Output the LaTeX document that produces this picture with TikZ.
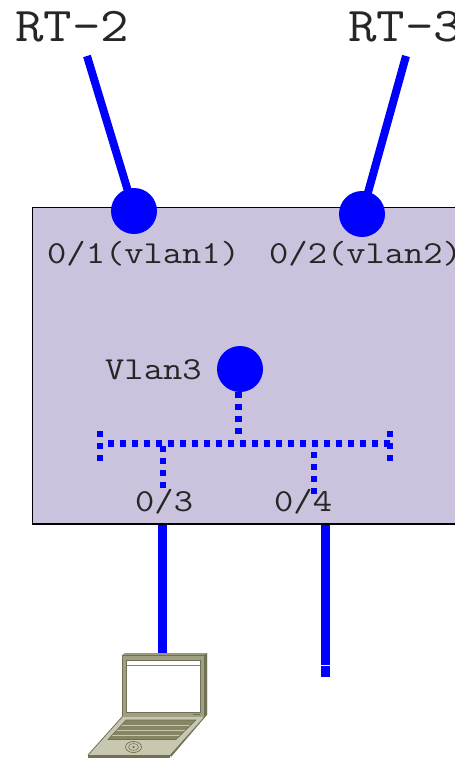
\documentclass[tikz,border=0pt]{standalone}
\usepackage{fontspec}
\newfontfamily\bigfont[FakeStretch=1.14]{Latin Modern Mono}
\newfontfamily\labfont[FakeStretch=1.17]{Latin Modern Mono}
\definecolor{panel}{RGB}{203,194,221}
\definecolor{lapA}{RGB}{160,160,128}
\definecolor{lapB}{RGB}{200,200,176}
\definecolor{lapC}{RGB}{112,112,84}
\definecolor{lapD}{RGB}{134,134,100}
\tikzset{
  port/.style={circle,fill=blue,draw=none,minimum size=46pt,inner sep=0pt},
  uplink/.style={draw=blue,line width=8pt},
  access/.style={draw=blue,line width=9pt},
  vdots/.style={draw=blue,line width=6.4pt,dash pattern=on 6pt off 6pt},
  bigtxt/.style={font=\bigfont\fontsize{48.5}{48}\selectfont,inner sep=0pt,anchor=base west,text=black!85},
  smalltxt/.style={font=\labfont\fontsize{32}{32}\selectfont,inner sep=0pt,anchor=base west,text=black!85},
}
\begin{document}
\begin{tikzpicture}[x=1pt,y=-1pt]
\useasboundingbox (0,0) rectangle (455,758);
\clip (0,0) rectangle (455,758);
\draw[fill=panel,draw=black,line width=1.8pt] (32.5,207.5) rectangle (470,524);
\node[bigtxt] (rt2) at (15,41) {RT-2};
\node[bigtxt] (rt3) at (348,41) {RT-3};
\coordinate (rt2end) at (87,56);
\coordinate (rt3end) at (406,56);
\node[port] (p1) at (134,211) {};
\node[port] (p2) at (362,214) {};
\node[port] (p3) at (240,369) {};
\draw[uplink] (rt2end) -- (p1.center);
\draw[uplink] (rt3end) -- (p2.center);
\node[smalltxt] (l1) at (47,263) {0/1(vlan1)};
\node[smalltxt] (l2) at (269,263) {0/2(vlan2)};
\node[smalltxt] (l3) at (105,379) {Vlan3};
\node[smalltxt] (l4) at (135,511) {0/3};
\node[smalltxt] (l5) at (274,511) {0/4};
% dotted bus
\coordinate (busL) at (107.7,443.5);
\coordinate (busR) at (392,443.5);
\coordinate (capLt) at (99.7,431);
\coordinate (capLb) at (99.7,461);
\coordinate (capRt) at (390,431);
\coordinate (capRb) at (390,461);
\coordinate (end3) at (162.7,488.5);
\coordinate (end4) at (314,494);
\draw[vdots] (busL) -- (busR);
\draw[vdots] (capLt) -- (capLb);
\draw[vdots] (capRt) -- (capRb);
\draw[vdots] (238.3,392) -- (238.3,434);
\draw[vdots] (162.7,446.3) -- (end3);
\draw[vdots] (314,452) -- (end4);
% access links
\coordinate (b3) at (162.5,524.8);
\coordinate (lap) at (162.5,653);
\coordinate (b4) at (325.5,524.8);
\coordinate (free) at (325.5,677);
\draw[access] (b3) -- (lap);
\draw[access] (b4) -- (free);
\fill[white] (321,665) rectangle (330,666);
% laptop
\fill[lapA] (122.5,655) -- (125,653) -- (207,653) -- (207,715) -- (204,717) -- (122.5,717) -- cycle;
\fill[lapC] (204,655) -- (207,653) -- (207,715) -- (204,717) -- cycle;
\fill[lapD!70!lapB] (122.5,655) -- (125,653) -- (207,653) -- (204,655) -- cycle;
\draw[lapC,line width=1pt] (122.5,655) rectangle (204,717);
\fill[white] (126.5,660.5) rectangle (200.5,712);
\draw[lapD,line width=0.8pt] (126.5,665.2) -- (200.5,665.2);
\draw[lapC,line width=0.6pt] (126.5,660.5) rectangle (200.5,712);
\fill[lapC] (193,713.5) rectangle (200,715);
\fill[lapB] (122,717) -- (204,717) -- (170,755) -- (88,755) -- cycle;
\draw[lapC,line width=0.8pt] (122,717) -- (88,755);
\fill[lapC] (204,717) -- (206,716) -- (171,757) -- (170,755) -- cycle;
\fill[lapC] (88,755) rectangle (170,758);
\fill[lapD] (126,720) -- (196,720) -- (176,739.5) -- (108,739.5) -- cycle;
\draw[lapB,line width=0.7pt] (121,725.5) -- (191,725.5);
\draw[lapB,line width=0.7pt] (116,730.5) -- (186,730.5);
\draw[lapB,line width=0.7pt] (111.5,735.5) -- (181.5,735.5);
\draw[lapC,line width=0.6pt] (126,720) -- (196,720) -- (176,739.5) -- (108,739.5) -- cycle;
\draw[lapC,line width=0.7pt] (133.5,747) ellipse (8pt and 5.5pt);
\draw[lapC,line width=0.5pt] (133.5,747) ellipse (5pt and 3.5pt);
\fill[lapC] (133.5,747) ellipse (1.5pt and 1pt);
\end{tikzpicture}
\end{document}
